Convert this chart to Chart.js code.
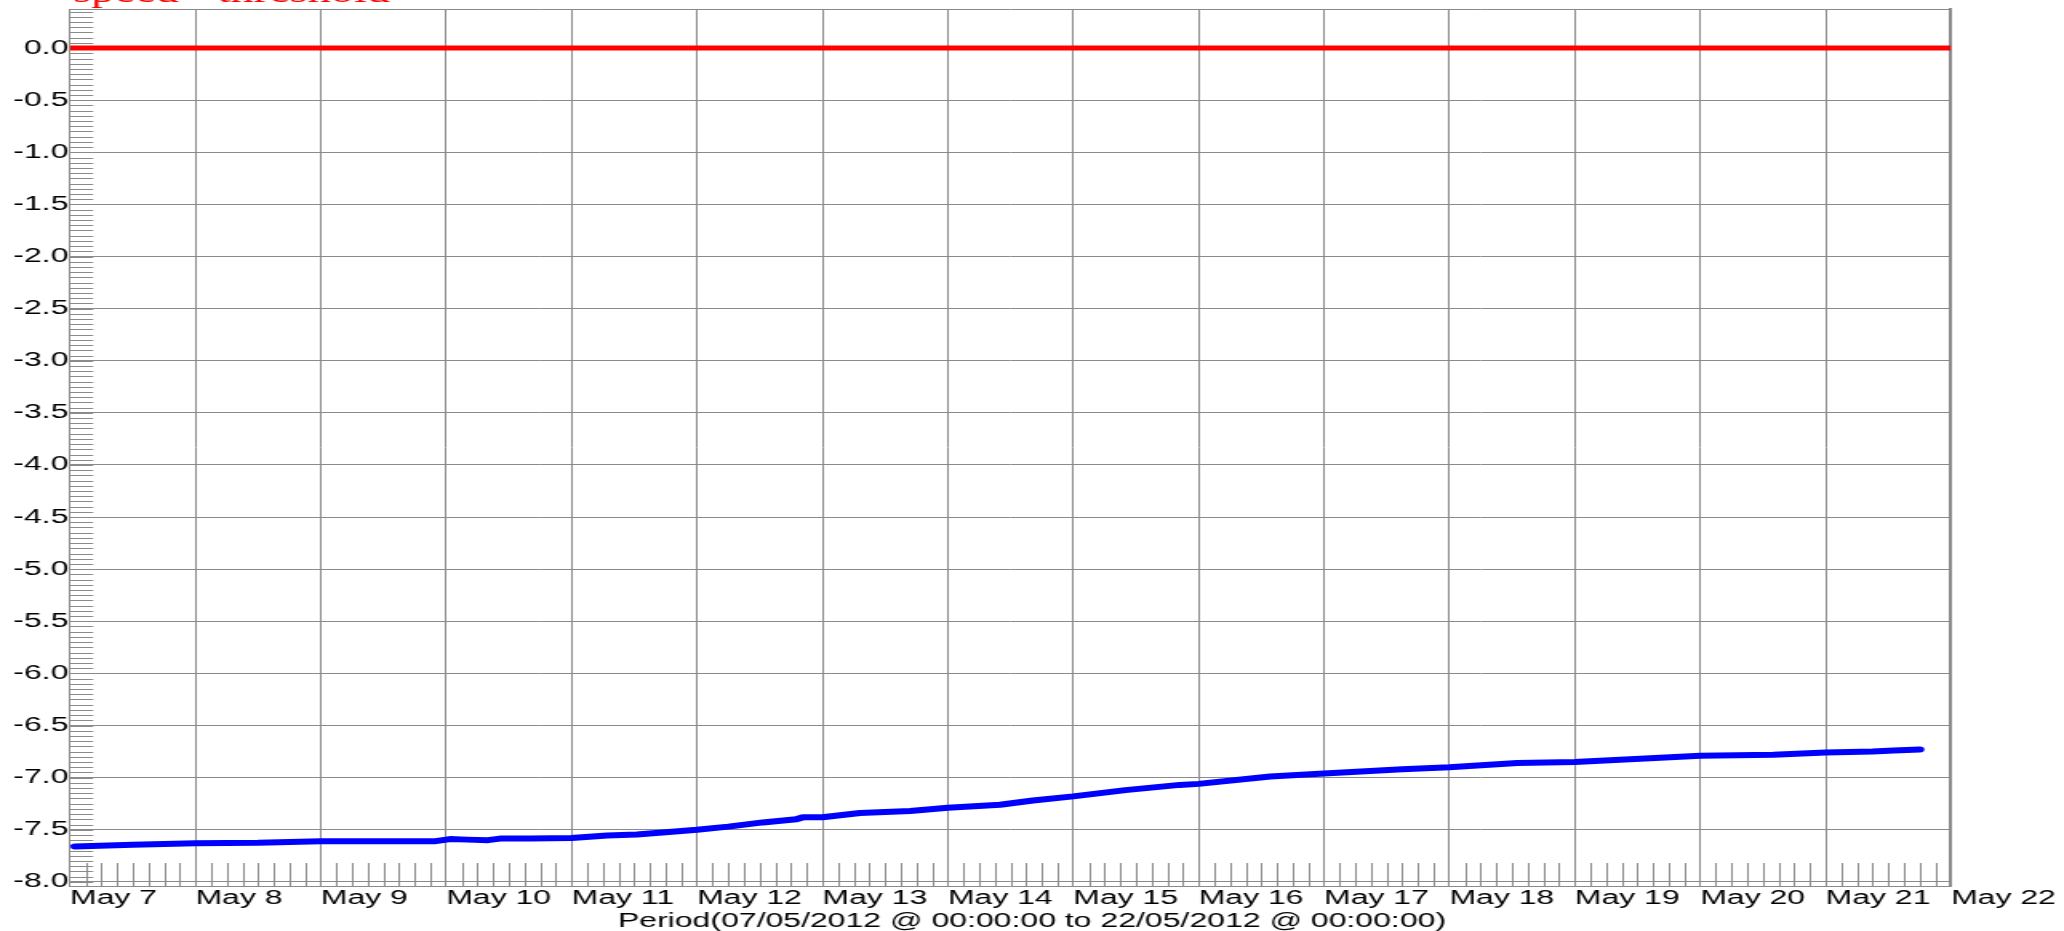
<!DOCTYPE html>
<html>
<head>
<meta charset="utf-8">
<script src="https://cdn.jsdelivr.net/npm/chart.js@4/dist/chart.umd.min.js"></script>
<style>
  html, body { margin: 0; padding: 0; background: #fff; overflow: hidden; }
  #wrap { width: 2064px; height: 931px; overflow: hidden; }
  #chart { display: block; transform-origin: 0 0; }
</style>
</head>
<body>
<div id="wrap"><canvas id="chart" height="931"></canvas></div>
<script>
const dayLabels = ['May 7', 'May 8', 'May 9', 'May 10', 'May 11', 'May 12', 'May 13', 'May 14',
    'May 15', 'May 16', 'May 17', 'May 18', 'May 19', 'May 20', 'May 21', 'May 22'];
const dayHours = [0, 24, 48, 72, 96, 120, 144, 168, 192, 216, 240, 264, 288, 312, 336, 360];
const yTicks = [0, -0.5, -1, -1.5, -2, -2.5, -3, -3.5, -4, -4.5, -5, -5.5, -6, -6.5, -7, -7.5, -8];

// hours since 07/05/2012 00:00
const speedHours = [1, 12, 24, 36, 48, 60, 66, 70, 72.7, 76, 80, 82.3, 88, 96, 102.8, 108.5, 114, 120,
    126, 132.6, 139, 140.3, 144, 151.2, 160.8, 168, 178, 184.3, 192, 202, 212.4, 216, 229.7, 240,
    255, 264, 277, 288, 300.5, 312, 326, 336, 345, 349, 354];
const speedValues = [-7.66, -7.645, -7.63, -7.625, -7.61, -7.61, -7.61, -7.61, -7.59, -7.595, -7.60, -7.585,
    -7.585, -7.58, -7.555, -7.545, -7.525, -7.50, -7.47, -7.43, -7.40, -7.38, -7.38, -7.34, -7.32, -7.29,
    -7.26, -7.22, -7.18, -7.12, -7.07, -7.06, -6.99, -6.96, -6.92, -6.90, -6.86, -6.85, -6.82, -6.79,
    -6.78, -6.76, -6.75, -6.74, -6.73];
const thresholdHours = [0, 360];
const thresholdValues = [0, 0];

const topText = 'speed - threshold';
const periodText = 'Period(07/05/2012 @ 00:00:00 to 22/05/2012 @ 00:00:00)';

// the reference is stretched sideways, so draw narrow and widen the canvas
const STRETCH = 1.6;
const canvas = document.getElementById('chart');
canvas.width = Math.round(2064 / STRETCH);
canvas.style.transform = 'scaleX(' + STRETCH + ')';

const gridColor = '#8a8a8a';
const font = { family: "'Liberation Sans', Arial, sans-serif", size: 20 };

const minorTicks = {
    id: 'minorTicks',
    beforeDatasetsDraw(chart) {
        const { ctx, scales: { x, y } } = chart;
        ctx.save();
        ctx.strokeStyle = gridColor;
        ctx.lineWidth = 1;
        ctx.beginPath();
        // y minor ticks every 0.05
        for (let i = 0; i <= 167; i++) {
            const py = Math.round(y.getPixelForValue(-8 + i * 0.05)) + 0.5;
            ctx.moveTo(x.left, py);
            ctx.lineTo(x.left + 14.5, py);
        }
        // x minor ticks every 3 hours
        for (let h = 3; h < 360; h += 3) {
            if (h % 24 === 0) continue;
            const px = Math.round(x.getPixelForValue(h)) + 0.5;
            ctx.moveTo(px, y.bottom - 23);
            ctx.lineTo(px, y.bottom);
        }
        ctx.stroke();
        ctx.restore();
    }
};

const topLabel = {
    id: 'topLabel',
    afterDraw(chart) {
        const ctx = chart.ctx;
        ctx.save();
        ctx.fillStyle = '#ff0000';
        ctx.font = "29px 'Liberation Serif', 'Times New Roman', serif";
        ctx.textBaseline = 'alphabetic';
        ctx.textAlign = 'left';
        ctx.fillText(topText, chart.chartArea.left + 2, 2);
        ctx.restore();
    }
};

new Chart(canvas, {
    type: 'line',
    data: {
        datasets: [
            {
                label: 'threshold',
                data: thresholdHours.map((h, i) => ({ x: h, y: thresholdValues[i] })),
                borderColor: '#ff0000',
                borderWidth: 5,
                pointRadius: 0,
                xAxisID: 'x',
                yAxisID: 'y'
            },
            {
                label: 'speed',
                data: speedHours.map((h, i) => ({ x: h, y: speedValues[i] })),
                borderColor: '#0000ff',
                borderWidth: 6,
                pointRadius: 0,
                borderCapStyle: 'round',
                borderJoinStyle: 'round',
                xAxisID: 'x',
                yAxisID: 'y'
            }
        ]
    },
    options: {
        responsive: false,
        animation: false,
        events: [],
        layout: { padding: { top: 9, left: 0, right: 0, bottom: 0 } },
        scales: {
            x: {
                type: 'linear',
                position: 'bottom',
                min: 0,
                max: 360,
                afterBuildTicks: s => { s.ticks = dayHours.map(v => ({ value: v })); },
                afterFit: s => { s.height = 28; },
                grid: { color: gridColor, lineWidth: 1, drawTicks: false },
                border: { display: true, color: gridColor, width: 1 },
                ticks: {
                    align: 'start',
                    padding: 0,
                    color: '#000',
                    font: font,
                    maxRotation: 0,
                    autoSkip: false,
                    callback: (v, i) => dayLabels[i]
                }
            },
            x2: {
                type: 'linear',
                position: 'top',
                min: 0,
                max: 360,
                afterFit: s => { s.height = 0; },
                grid: { drawOnChartArea: false, drawTicks: false },
                border: { display: true, color: gridColor, width: 1 },
                ticks: { display: false }
            },
            y: {
                type: 'linear',
                position: 'left',
                min: -8.04,
                max: 0.375,
                afterBuildTicks: s => { s.ticks = yTicks.map(v => ({ value: v })); },
                afterFit: s => { s.width = 70 / STRETCH; s.paddingTop = 0; s.paddingBottom = 0; },
                grid: { color: gridColor, lineWidth: 1, drawTicks: false },
                border: { display: true, color: gridColor, width: 1 },
                ticks: { padding: 1, color: '#000', font: font, callback: v => v.toFixed(1) }
            },
            y2: {
                type: 'linear',
                position: 'right',
                min: -8.04,
                max: 0.375,
                afterFit: s => { s.width = (2064 - 1951) / STRETCH; s.paddingTop = 0; s.paddingBottom = 0; },
                grid: { drawOnChartArea: false, drawTicks: false },
                border: { display: true, color: gridColor, width: 2 },
                ticks: { display: false }
            }
        },
        plugins: {
            legend: { display: false },
            tooltip: { enabled: false },
            title: {
                display: true,
                position: 'bottom',
                text: periodText,
                color: '#000',
                font: { family: font.family, size: 20, weight: 'normal', lineHeight: 0.75 },
                padding: { top: 0, bottom: 2 }
            }
        }
    },
    plugins: [minorTicks, topLabel]
});
</script>
</body>
</html>
